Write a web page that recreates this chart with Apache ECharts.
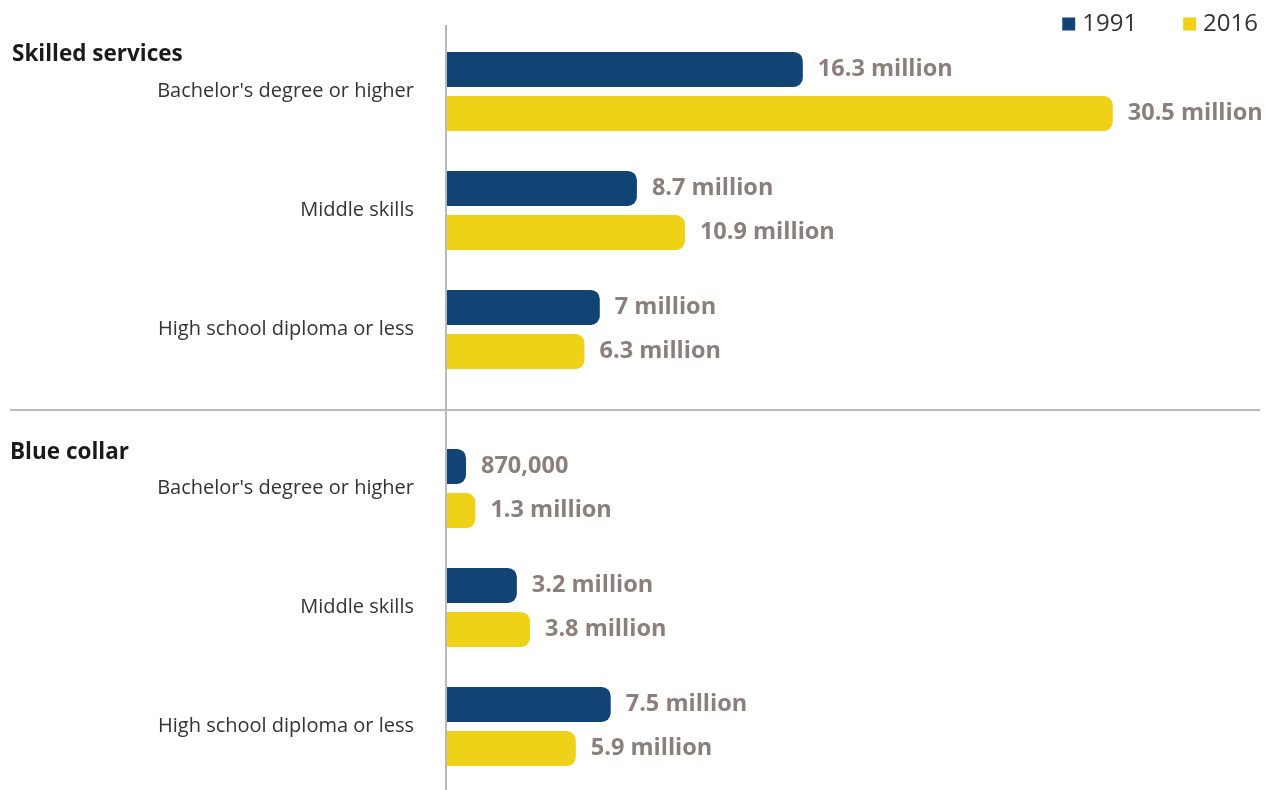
<!DOCTYPE html>
<html>
<head>
<meta charset="utf-8">
<style>
  html, body { margin: 0; padding: 0; background: #ffffff; }
  #chart { width: 1273px; height: 790px; }
</style>
<script src="https://cdn.jsdelivr.net/npm/echarts@6/dist/echarts.min.js"></script>
</head>
<body>
<div id="chart"></div>
<script>
// Workers by occupation group and education level, in millions
const sections = ['Skilled services', 'Blue collar'];
const categories = ["Bachelor's degree or higher", 'Middle skills', 'High school diploma or less'];
const years = ['1991', '2016'];

const skilled1991 = [16.3, 8.7, 7];
const skilled2016 = [30.5, 10.9, 6.3];
const blue1991 = [0.87, 3.2, 7.5];
const blue2016 = [1.3, 3.8, 5.9];

const skilled1991Labels = ['16.3 million', '8.7 million', '7 million'];
const skilled2016Labels = ['30.5 million', '10.9 million', '6.3 million'];
const blue1991Labels = ['870,000', '3.2 million', '7.5 million'];
const blue2016Labels = ['1.3 million', '3.8 million', '5.9 million'];

const COLOR_1991 = '#124375';
const COLOR_2016 = '#EFD118';
const FONT = '"Open Sans", "Noto Sans", sans-serif';

const chart = echarts.init(document.getElementById('chart'), null, { renderer: 'canvas' });

function barSeries(name, color, values, labels, gridIdx) {
  return {
    name: name,
    type: 'bar',
    xAxisIndex: gridIdx,
    yAxisIndex: gridIdx,
    barWidth: 35,
    barGap: '26%',
    itemStyle: { color: color, borderRadius: [0, 9, 9, 0] },
    label: {
      show: true,
      position: 'right',
      distance: 15,
      color: '#8a7f7a',
      fontFamily: FONT,
      fontWeight: 'bold',
      fontSize: 23.5,
      padding: [2, 0, 0, 0],
      formatter: (p) => labels[p.dataIndex]
    },
    data: values
  };
}

const grids = [
  { left: 447, right: 62, top: 32, height: 357 },
  { left: 447, right: 62, top: 429, height: 357 }
];

const option = {
  backgroundColor: '#ffffff',
  animation: false,
  title: [
    { text: sections[0], left: 7, top: 38,
      textStyle: { fontFamily: FONT, fontWeight: 'bold', fontSize: 22.5, color: '#1a1a1a' } },
    { text: sections[1], left: 5, top: 436,
      textStyle: { fontFamily: FONT, fontWeight: 'bold', fontSize: 22.5, color: '#1a1a1a' } }
  ],
  legend: {
    data: years,
    right: 10,
    top: 7,
    itemWidth: 13,
    itemHeight: 13,
    itemGap: 46,
    icon: 'rect',
    textStyle: { fontFamily: FONT, fontSize: 24, color: '#333333', padding: [0, 0, 0, 2] }
  },
  grid: grids,
  xAxis: grids.map((g, i) => ({
    type: 'value', gridIndex: i, min: 0, max: 35, show: false
  })),
  yAxis: grids.map((g, i) => ({
    type: 'category',
    gridIndex: i,
    inverse: true,
    data: categories,
    axisLine: { show: false },
    axisTick: { show: false },
    axisLabel: {
      margin: 33,
      fontFamily: FONT,
      fontSize: 20,
      color: '#333333',
      padding: [5, 0, 0, 0]
    }
  })),
  series: [
    barSeries(years[0], COLOR_1991, skilled1991, skilled1991Labels, 0),
    barSeries(years[1], COLOR_2016, skilled2016, skilled2016Labels, 0),
    barSeries(years[0], COLOR_1991, blue1991, blue1991Labels, 1),
    barSeries(years[1], COLOR_2016, blue2016, blue2016Labels, 1)
  ],
  graphic: [
    // vertical baseline through both sections
    { type: 'line', z: 10, shape: { x1: 446, y1: 25, x2: 446, y2: 790 },
      style: { stroke: '#b9b9b9', lineWidth: 2 } },
    // divider between the two sections
    { type: 'line', z: 10, shape: { x1: 10, y1: 410, x2: 1260, y2: 410 },
      style: { stroke: '#b9b9b9', lineWidth: 2 } }
  ]
};

chart.setOption(option);
</script>
</body>
</html>
